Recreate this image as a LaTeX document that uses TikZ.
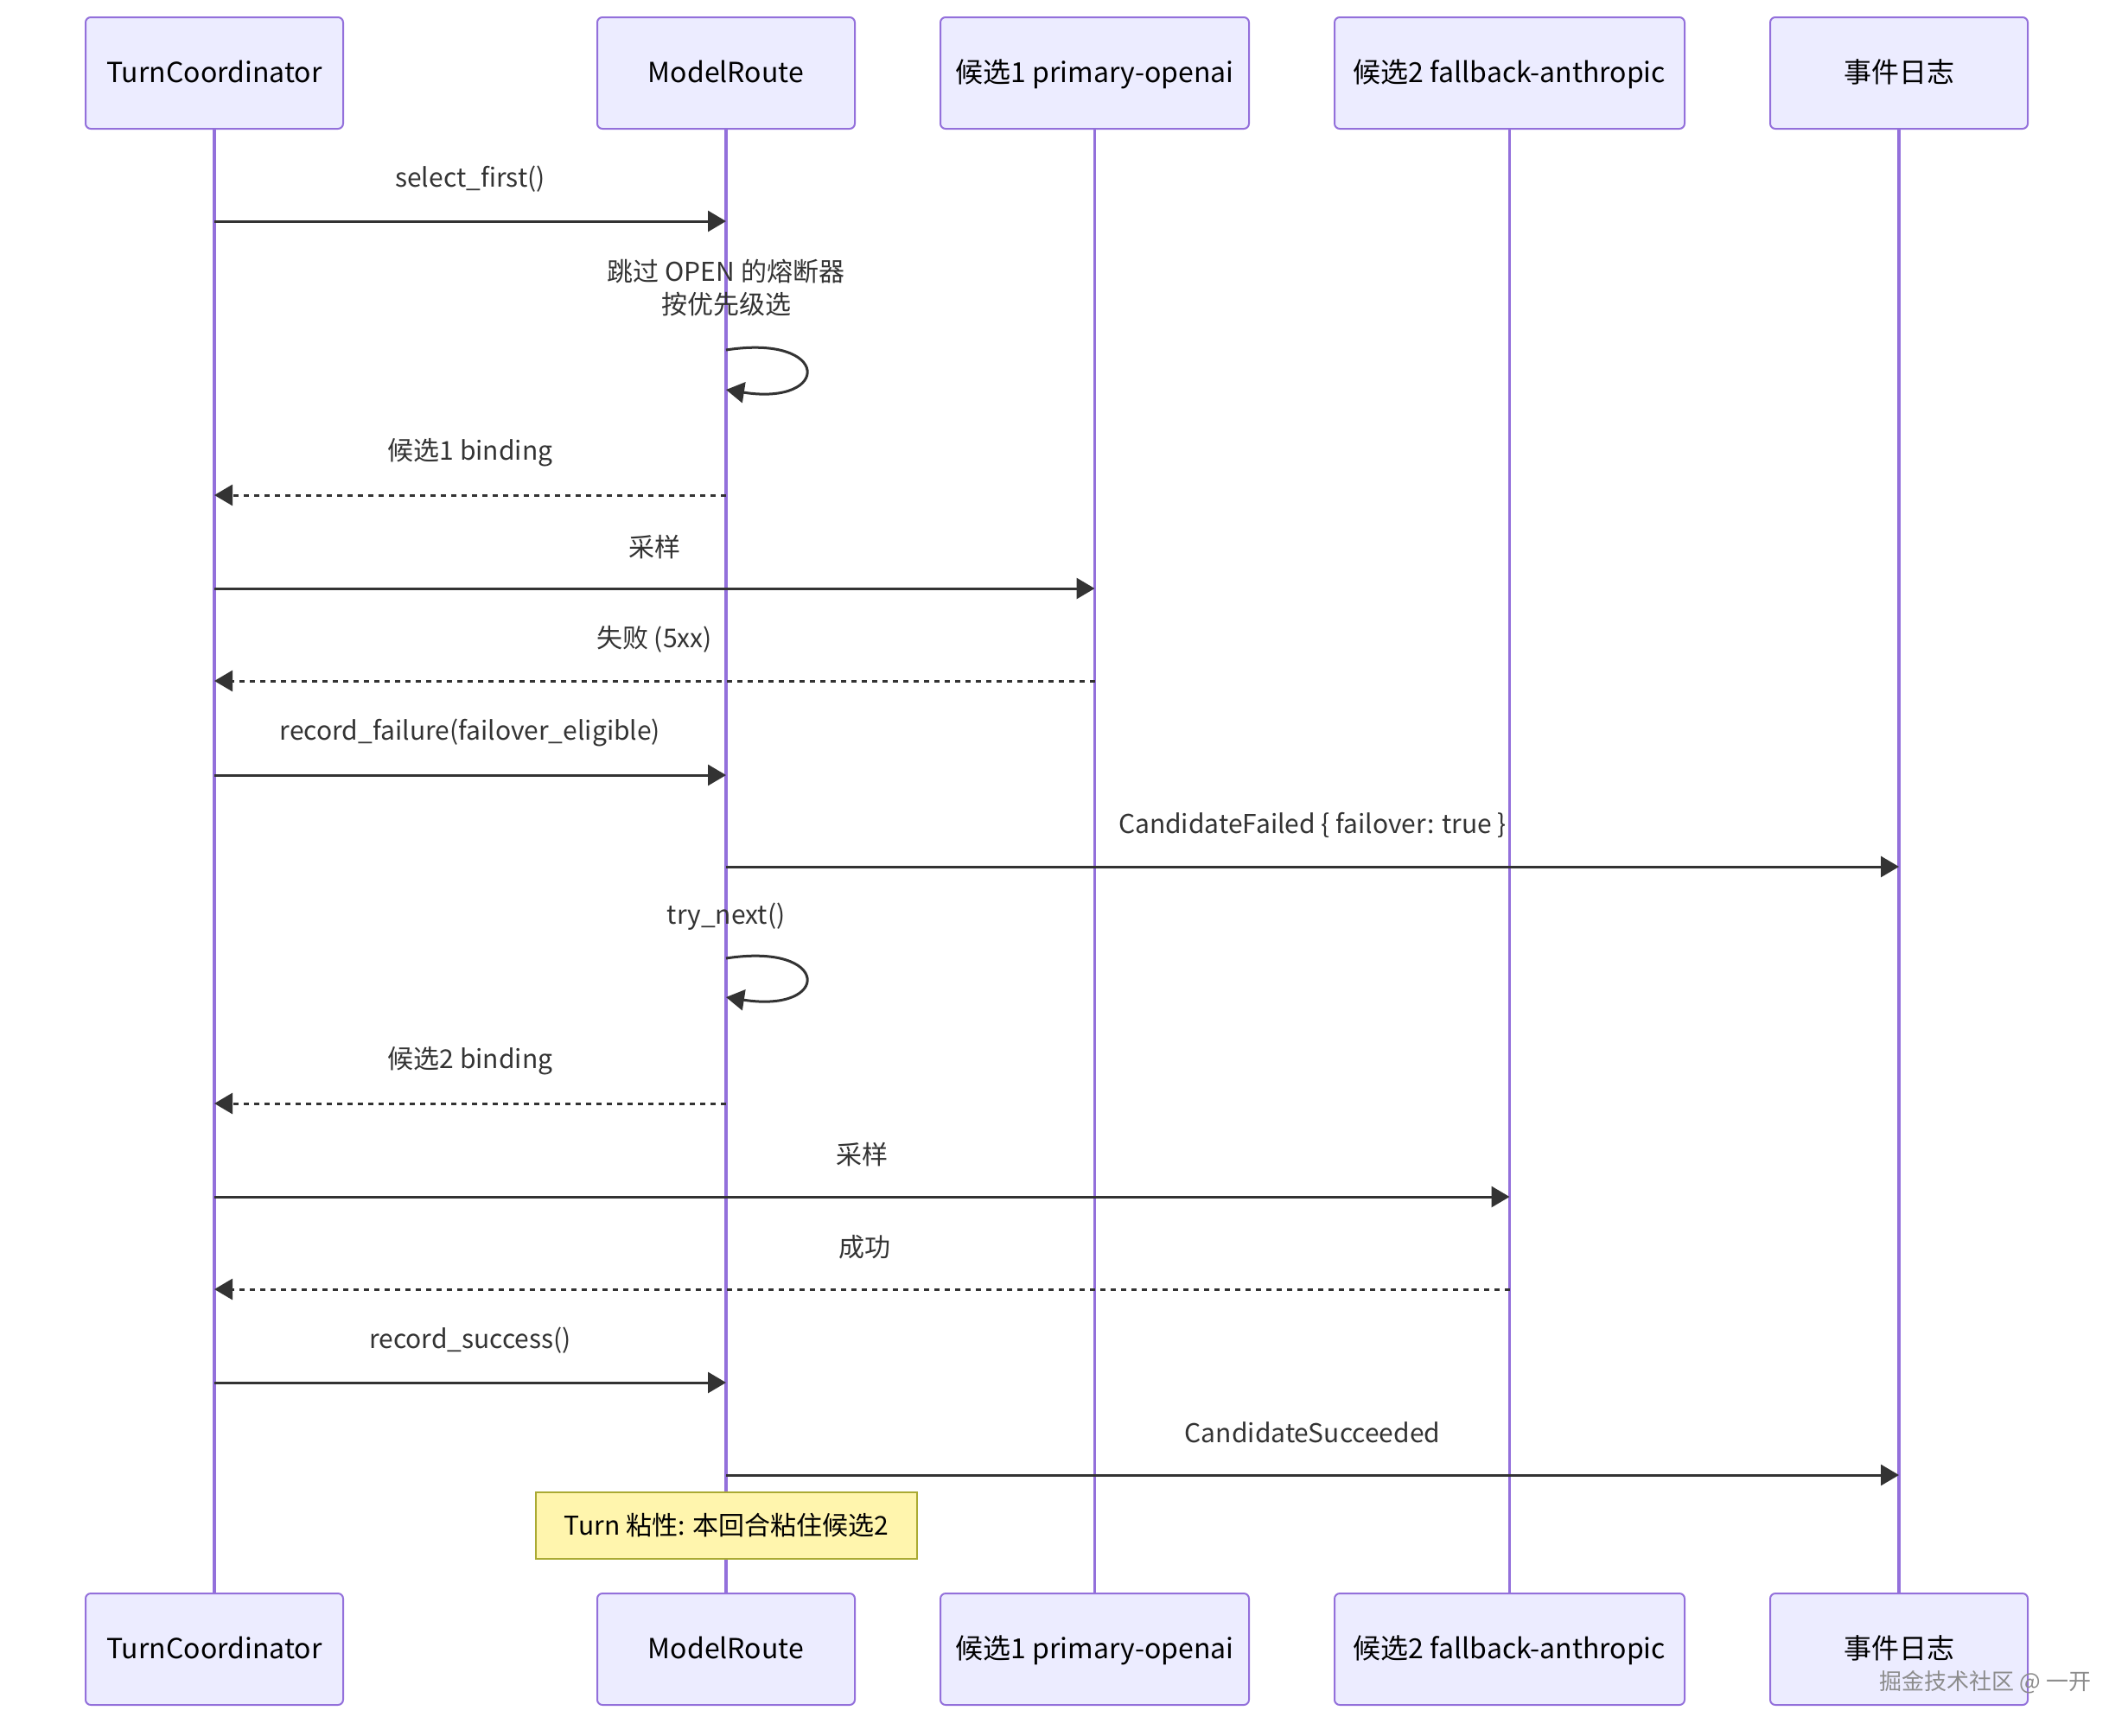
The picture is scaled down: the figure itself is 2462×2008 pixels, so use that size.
\documentclass[tikz,border=0pt]{standalone}
\usepackage{fontspec}
\setmainfont{Noto Sans CJK SC}
\usetikzlibrary{arrows.meta}
\definecolor{actfill}{HTML}{ECECFF}
\definecolor{actline}{HTML}{9370DB}
\definecolor{msgc}{HTML}{333333}
\definecolor{notefill}{HTML}{FFF5AD}
\definecolor{noteline}{HTML}{AAAA33}
\tikzset{
  actor/.style={draw=actline, fill=actfill, line width=1pt, rounded corners=3pt,
    minimum height=64.5pt, inner sep=0pt, outer sep=0pt, text=black,
    text height=11pt, text depth=0pt,
    font=\fontsize{16}{19}\selectfont},
  life/.style={draw=actline, line width=1.8pt},
  msg/.style={draw=msgc, line width=1.5pt, -{Triangle[length=10.5pt,width=12pt]}},
  reply/.style={msg, dash pattern=on 3pt off 3pt},
  lbl/.style={text=msgc, font=\fontsize{15}{19}\selectfont, inner sep=0pt},
  notebox/.style={draw=noteline, fill=notefill, line width=1pt, text=black,
    minimum width=220.5pt, minimum height=38.5pt, inner sep=0pt,
    font=\fontsize{15}{19}\selectfont},
}
\begin{document}
\begin{tikzpicture}[x=0.5pt,y=-0.5pt]
\useasboundingbox (0,0) rectangle (2462,2008);
% actors top
\node[actor, minimum width=149pt] (tcT) at (248,84.5) {TurnCoordinator};
\node[actor, minimum width=149pt] (mrT) at (840,84.5) {ModelRoute};
\node[actor, minimum width=178.5pt] (c1T) at (1266.5,84.5) {候选1 primary-openai};
\node[actor, minimum width=202.5pt] (c2T) at (1746.5,84.5) {候选2 fallback-anthropic};
\node[actor, minimum width=149pt] (elT) at (2197,84.5) {事件日志};
% actors bottom
\node[actor, minimum width=149pt] (tcB) at (248,1908.5) {TurnCoordinator};
\node[actor, minimum width=149pt] (mrB) at (840,1908.5) {ModelRoute};
\node[actor, minimum width=178.5pt] (c1B) at (1266.5,1908.5) {候选1 primary-openai};
\node[actor, minimum width=202.5pt] (c2B) at (1746.5,1908.5) {候选2 fallback-anthropic};
\node[actor, minimum width=149pt] (elB) at (2197,1908.5) {事件日志};
% lifelines
\draw[life] (tcT) -- (tcB);
\draw[life] (mrT) -- (mrB);
\draw[life] (c1T) -- (c1B);
\draw[life] (c2T) -- (c2B);
\draw[life] (elT) -- (elB);
% messages
\node[lbl] (l1) at (544,207) {select\_first()};
\draw[msg] (tcT.south |- 0,256) -- (mrT.south |- 0,256);
\node[lbl, align=center] (l2) at (840,333) {跳过 OPEN 的熔断器\\按优先级选};
\draw[msg] (mrT.south |- 0,405) .. controls (962,386) and (962,470) .. (mrT.south |- 0,451);
\node[lbl] (l3) at (544,524) {候选1 binding};
\draw[reply] (mrT.south |- 0,573) -- (tcT.south |- 0,573);
\node[lbl] (l4) at (757,633) {采样};
\draw[msg] (tcT.south |- 0,681) -- (c1T.south |- 0,681);
\node[lbl] (l5) at (757,740) {失败 (5xx)};
\draw[reply] (c1T.south |- 0,788) -- (tcT.south |- 0,788);
\node[lbl] (l6) at (544,848) {record\_failure(failover\_eligible)};
\draw[msg] (tcT.south |- 0,897) -- (mrT.south |- 0,897);
\node[lbl] (l7) at (1518.5,955) {CandidateFailed \{ failover: true \}};
\draw[msg] (mrT.south |- 0,1003) -- (elT.south |- 0,1003);
\node[lbl] (l8) at (840,1061) {try\_next()};
\draw[msg] (mrT.south |- 0,1109) .. controls (962,1090) and (962,1173) .. (mrT.south |- 0,1154);
\node[lbl] (l9) at (544,1228) {候选2 binding};
\draw[reply] (mrT.south |- 0,1277) -- (tcT.south |- 0,1277);
\node[lbl] (l10) at (997,1336) {采样};
\draw[msg] (tcT.south |- 0,1385) -- (c2T.south |- 0,1385);
\node[lbl] (l11) at (1000,1443) {成功};
\draw[reply] (c2T.south |- 0,1492) -- (tcT.south |- 0,1492);
\node[lbl] (l12) at (544,1551) {record\_success()};
\draw[msg] (tcT.south |- 0,1600) -- (mrT.south |- 0,1600);
\node[lbl] (l13) at (1518.5,1658) {CandidateSucceeded};
\draw[msg] (mrT.south |- 0,1707) -- (elT.south |- 0,1707);
% note
\node[notebox] (note) at (840.5,1765.5) {Turn 粘性: 本回合粘住候选2};
% watermark
\node[text=black!45, font=\fontsize{13}{15}\selectfont, inner sep=0pt] (wm) at (2297,1947) {掘金技术社区 @ 一开};
\end{tikzpicture}
\end{document}
